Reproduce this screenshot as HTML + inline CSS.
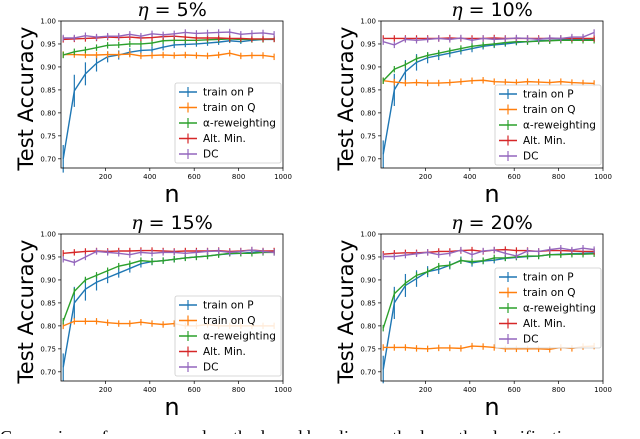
<!DOCTYPE html>
<html><head><meta charset="utf-8"><style>
body{margin:0;background:#fff;width:640px;height:434px;overflow:hidden}
svg{font-family:"DejaVu Sans","Liberation Sans",sans-serif}
</style></head><body>
<svg id="fig" width="640" height="434" viewBox="0 0 640 434" xmlns="http://www.w3.org/2000/svg">
<text x="0" y="443" font-family="Liberation Serif, serif" font-size="18" fill="#000">Comparison of our proposed methods and baseline methods on the classification</text>
</svg>
<script>
const nValues=[10,60,110,160,210,260,310,360,410,460,510,560,610,660,710,760,810,860,910,960];
const seriesNames=["train on P","train on Q","\u03b1-reweighting","Alt. Min.","DC"];
const panelPercents=["5%","10%","15%","20%"];
const yTicks=[0.70,0.75,0.80,0.85,0.90,0.95,1.00];
const xTicks=[200,400,600,800,1000];
const p1P=[0.70,0.848,0.885,0.908,0.922,0.926,0.932,0.936,0.937,0.943,0.948,0.949,0.950,0.952,0.954,0.957,0.955,0.958,0.960,0.960];
const p1Q=[0.927,0.927,0.926,0.926,0.927,0.927,0.928,0.924,0.925,0.926,0.925,0.926,0.925,0.924,0.926,0.930,0.924,0.925,0.925,0.922];
const p1A=[0.926,0.933,0.937,0.942,0.947,0.948,0.950,0.950,0.952,0.957,0.958,0.958,0.958,0.959,0.960,0.961,0.960,0.960,0.960,0.961];
const p1M=[0.960,0.961,0.962,0.963,0.965,0.964,0.965,0.963,0.964,0.966,0.967,0.965,0.963,0.963,0.963,0.962,0.962,0.961,0.961,0.961];
const p1D=[0.963,0.963,0.968,0.965,0.967,0.967,0.971,0.967,0.972,0.970,0.972,0.975,0.973,0.974,0.975,0.976,0.971,0.973,0.974,0.971];
const p2P=[0.71,0.85,0.89,0.91,0.92,0.925,0.93,0.935,0.94,0.945,0.948,0.95,0.953,0.955,0.957,0.958,0.959,0.96,0.96,0.96];
const p2Q=[0.87,0.867,0.865,0.866,0.865,0.865,0.866,0.868,0.87,0.871,0.868,0.867,0.866,0.868,0.867,0.866,0.868,0.866,0.865,0.864];
const p2A=[0.87,0.895,0.905,0.918,0.925,0.93,0.935,0.94,0.945,0.948,0.95,0.953,0.955,0.955,0.956,0.957,0.958,0.958,0.958,0.958];
const p2M=[0.962,0.962,0.962,0.962,0.962,0.962,0.963,0.962,0.962,0.962,0.963,0.962,0.962,0.962,0.962,0.962,0.962,0.962,0.962,0.962];
const p2D=[0.955,0.948,0.96,0.958,0.96,0.962,0.96,0.963,0.958,0.962,0.96,0.961,0.963,0.962,0.96,0.963,0.962,0.965,0.965,0.975];
const p3P=[0.71,0.85,0.88,0.895,0.905,0.915,0.925,0.935,0.94,0.942,0.945,0.948,0.95,0.952,0.955,0.957,0.958,0.96,0.962,0.963];
const p3Q=[0.80,0.81,0.81,0.81,0.807,0.805,0.805,0.808,0.805,0.803,0.805,0.80,0.80,0.803,0.80,0.80,0.80,0.80,0.80,0.80];
const p3A=[0.81,0.875,0.9,0.91,0.92,0.93,0.935,0.942,0.94,0.942,0.945,0.948,0.95,0.952,0.955,0.958,0.958,0.958,0.96,0.96];
const p3M=[0.958,0.96,0.962,0.963,0.962,0.963,0.963,0.964,0.964,0.963,0.962,0.963,0.963,0.963,0.964,0.962,0.963,0.965,0.963,0.963];
const p3D=[0.945,0.938,0.95,0.962,0.96,0.958,0.955,0.96,0.958,0.96,0.96,0.958,0.96,0.962,0.963,0.96,0.962,0.965,0.962,0.96];
const p4P=[0.705,0.85,0.888,0.903,0.918,0.923,0.932,0.943,0.937,0.941,0.943,0.947,0.949,0.951,0.952,0.955,0.956,0.957,0.958,0.959];
const p4Q=[0.753,0.753,0.753,0.751,0.75,0.752,0.752,0.751,0.756,0.755,0.753,0.75,0.75,0.75,0.75,0.749,0.753,0.751,0.755,0.756];
const p4A=[0.795,0.87,0.893,0.91,0.918,0.93,0.932,0.942,0.94,0.942,0.948,0.948,0.95,0.952,0.952,0.955,0.955,0.956,0.956,0.957];
const p4M=[0.956,0.958,0.959,0.959,0.96,0.962,0.962,0.964,0.965,0.962,0.965,0.966,0.964,0.964,0.962,0.964,0.964,0.963,0.962,0.962];
const p4D=[0.951,0.951,0.954,0.957,0.96,0.955,0.958,0.965,0.955,0.963,0.965,0.958,0.952,0.963,0.962,0.966,0.969,0.965,0.969,0.966];
const errP=[0.03,0.035,0.025,0.018,0.012,0.01,0.009,0.008,0.008,0.007,0.007,0.006,0.006,0.006,0.006,0.005,0.005,0.005,0.005,0.005];
const errO=[0.007,0.007,0.007,0.007,0.007,0.007,0.007,0.007,0.007,0.007,0.007,0.007,0.007,0.007,0.007,0.007,0.007,0.007,0.007,0.007];
const panelData=[[p1P,p1Q,p1A,p1M,p1D],[p2P,p2Q,p2A,p2M,p2D],[p3P,p3Q,p3A,p3M,p3D],[p4P,p4Q,p4A,p4M,p4D]];
const colors=["#1f77b4","#ff7f0e","#2ca02c","#d62728","#9467bd"];
const layout=[{l:61,t:21,lg:83},{l:381,t:21,lg:85},{l:61,t:234,lg:296},{l:381,t:234,lg:268}];
const W=222,H=147,Y0=0.68,Y1=1.0;
const NS="http://www.w3.org/2000/svg";
const svg=document.getElementById('fig');
function mk(tag,attrs,parent,txt){const e=document.createElementNS(NS,tag);for(const k in attrs)e.setAttribute(k,attrs[k]);if(txt!==undefined)e.textContent=txt;(parent||svg).appendChild(e);return e;}
panelData.forEach((series,pi)=>{
  const L=layout[pi];
  const g=mk('g',{});
  
  
  const xs=v=>L.l+v/1000*W;
  const ys=v=>L.t+(Y1-v)/(Y1-Y0)*H;
  const t=mk('text',{x:L.l+W/2,y:L.t-5,'text-anchor':'middle','font-size':19},g);
  
  
  mk('tspan',{'font-style':'italic','font-family':'DejaVu Serif, serif'},t,'\u03b7');
  mk('tspan',{},t,' = '+panelPercents[pi]);
  const yl=mk('text',{x:0,y:0,transform:`translate(${L.l-28},${L.t+H/2+4}) rotate(-90)`,'text-anchor':'middle','font-size':21},g,'Test Accuracy');
  
  
  const xl=mk('text',{x:L.l+W/2,y:L.t+H+34,'text-anchor':'middle','font-size':24},g,'n');
  
  
  yTicks.forEach(v=>{const y=ys(v);mk('line',{x1:L.l-3,x2:L.l,y1:y,y2:y,stroke:'#000','stroke-width':0.7},g);
    const tl=mk('text',{x:L.l-5,y:y+2.5,'text-anchor':'end','font-size':7},g,v.toFixed(2));
    
    });
  xTicks.forEach(v=>{const x=xs(v);mk('line',{x1:x,x2:x,y1:L.t+H,y2:L.t+H+3,stroke:'#000','stroke-width':0.7},g);
    const tl=mk('text',{x:x,y:L.t+H+11,'text-anchor':'middle','font-size':7},g,String(v));
    
    });
  series.forEach((vals,si)=>{
    const c=colors[si];const err=si===0?errP:errO;
    const pts=vals.map((v,i)=>xs(nValues[i])+','+ys(v)).join(' ');
    const pl=mk('polyline',{points:pts,fill:'none',stroke:c,'stroke-width':1.4},g);
    
    
    vals.forEach((v,i)=>{const x=xs(nValues[i]);
      const eb=mk('line',{x1:x,x2:x,y1:ys(v+err[i]),y2:ys(v-err[i]),stroke:c,'stroke-width':1.2},g);
      
      });
  });
  const fr=mk('rect',{x:L.l,y:L.t,width:W,height:H,fill:'none',stroke:'#000','stroke-width':0.8},g);
  
  
  const lx=L.l+W-108,ly=L.lg;
  const lg=mk('g',{},g);
  
  
  mk('rect',{x:lx,y:ly,width:106,height:80,fill:'#fff','fill-opacity':0.85,stroke:'#ccc','stroke-width':0.8,rx:2},lg);
  seriesNames.forEach((nm,si)=>{const y=ly+9+si*15.5;
    mk('line',{x1:lx+4,x2:lx+22,y1:y,y2:y,stroke:colors[si],'stroke-width':1.5},lg);
    mk('line',{x1:lx+13,x2:lx+13,y1:y-5,y2:y+5,stroke:colors[si],'stroke-width':1.2},lg);
    const tx=mk('text',{x:lx+28,y:y+3.5,'font-size':10.5},lg,nm);
    
    });
});
</script>
</body></html>
